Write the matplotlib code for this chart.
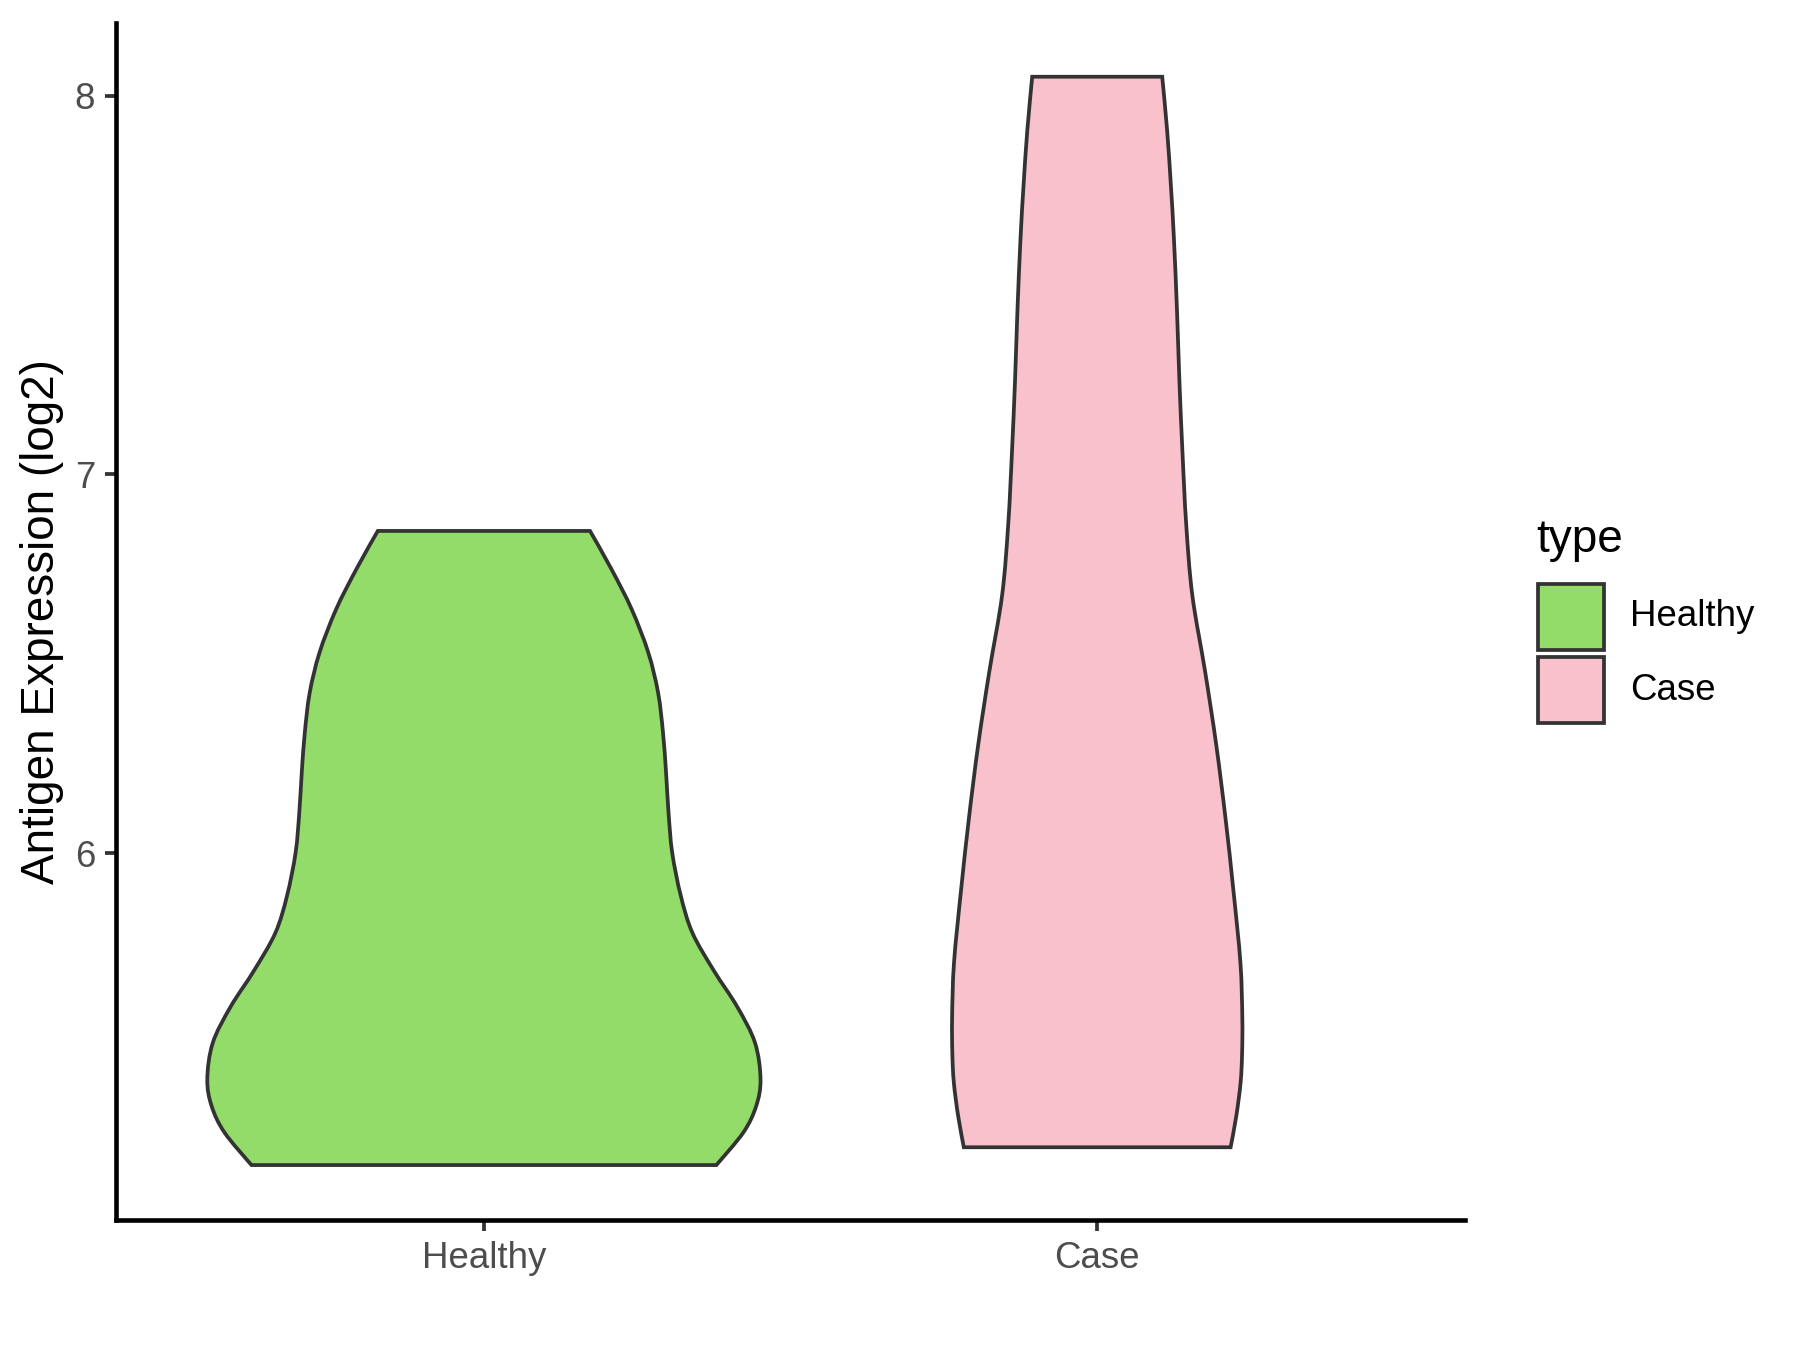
import matplotlib
matplotlib.use("Agg")
import matplotlib.pyplot as plt
from matplotlib.patches import Rectangle, PathPatch
from matplotlib.path import Path
import numpy as np

plt.rcParams['font.family'] = ['Liberation Sans', 'DejaVu Sans']

# categories and colours
categories = ['Healthy', 'Case']
fill_colors = ['#93DC6A', '#F8C1CC']
edge_color = '#333333'

# violin outlines: y level -> half width (x units)
healthy_y = [6.851, 6.750, 6.644, 6.530, 6.424, 6.319, 6.213, 6.108, 6.002,
             5.888, 5.790, 5.690, 5.595, 5.500, 5.404, 5.333, 5.263, 5.177]
healthy_hw = [0.173, 0.208, 0.241, 0.268, 0.284, 0.292, 0.297, 0.301, 0.307,
              0.321, 0.340, 0.375, 0.413, 0.442, 0.451, 0.444, 0.423, 0.379]

case_y = [8.050, 7.908, 7.766, 7.625, 7.436, 7.248, 7.059, 6.871, 6.682,
          6.479, 6.287, 6.095, 5.903, 5.711, 5.567, 5.471, 5.395, 5.307, 5.224]
case_hw = [0.106, 0.114, 0.120, 0.125, 0.130, 0.134, 0.139, 0.145, 0.155,
           0.176, 0.194, 0.209, 0.222, 0.2335, 0.2366, 0.2362, 0.2338, 0.2268, 0.2175]

profiles = [(healthy_y, healthy_hw), (case_y, case_hw)]
y_ticks = [6, 7, 8]


def smooth_curve(pts):
    # Catmull-Rom through the read points, written as cubic Bezier segments
    pts = np.asarray(pts, dtype=float)
    ext = np.vstack([pts[0], pts, pts[-1]])
    verts, codes = [], []
    for k in range(1, len(ext) - 2):
        p0, p1, p2, p3 = ext[k - 1], ext[k], ext[k + 1], ext[k + 2]
        verts += [p1 + (p2 - p0) / 6, p2 - (p3 - p1) / 6, p2]
        codes += [Path.CURVE4] * 3
    return verts, codes


def violin_path(pos, ys, hws):
    ys = np.asarray(ys)
    hws = np.asarray(hws)
    left = np.column_stack([pos - hws, ys])            # top -> bottom
    right = np.column_stack([pos + hws, ys])[::-1]     # bottom -> top
    verts = [left[0]]
    codes = [Path.MOVETO]
    v, c = smooth_curve(left)
    verts += v
    codes += c
    verts.append(right[0])
    codes.append(Path.LINETO)
    v, c = smooth_curve(right)
    verts += v
    codes += c
    verts.append(left[0])
    codes.append(Path.CLOSEPOLY)
    return Path(verts, codes)


fig = plt.figure(figsize=(6, 4.5), dpi=300)
ax = fig.add_axes([0.0644, 0.0963, 0.7496, 0.8867])

for i, (ys, hws) in enumerate(profiles):
    patch = PathPatch(violin_path(i + 1, ys, hws), facecolor=fill_colors[i],
                      edgecolor=edge_color, linewidth=0.9, joinstyle='miter', zorder=2)
    ax.add_patch(patch)

ax.set_xlim(0.4, 2.6)
ax.set_ylim(5.032, 8.192)
ax.set_xticks([1, 2])
ax.set_xticklabels(categories)
ax.set_yticks(y_ticks)
ax.set_yticklabels([str(t) for t in y_ticks])

for side in ['top', 'right']:
    ax.spines[side].set_visible(False)
for side in ['left', 'bottom']:
    ax.spines[side].set_linewidth(1.1)
    ax.spines[side].set_color('black')

ax.tick_params(axis='both', length=2.75, width=0.9, color=edge_color,
               labelsize=8.8, labelcolor='#4D4D4D', pad=2.2)
ax.set_ylabel('Antigen Expression (log2)', fontsize=11, labelpad=2.6)

# legend drawn by hand, ggplot style
fig.text(0.8533, 0.600, 'type', fontsize=11, va='center', ha='left')
key_w, key_h = 66 / 1800, 66 / 1350
key_x = 1538 / 1800
key_tops = [584, 657]
for i, lab in enumerate(categories):
    y0 = 1 - (key_tops[i] + 66) / 1350
    fig.add_artist(Rectangle((key_x, y0), key_w, key_h, transform=fig.transFigure,
                             facecolor=fill_colors[i], edgecolor=edge_color,
                             linewidth=0.9))
    fig.text(1630 / 1800, y0 + key_h / 2, lab, fontsize=8.8, va='center', ha='left')

fig.savefig('out.png', dpi=300)
